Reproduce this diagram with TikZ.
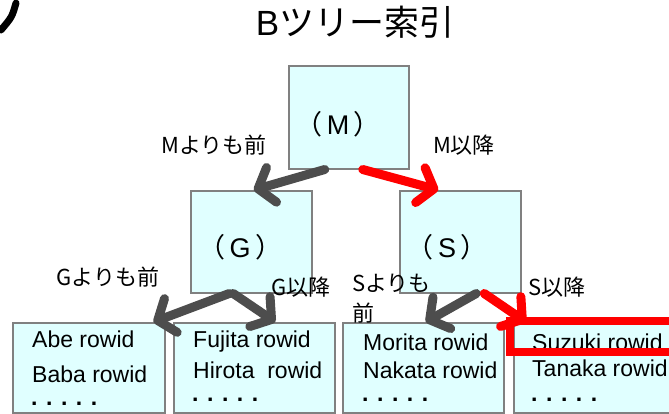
\documentclass[tikz,border=0pt]{standalone}
\usepackage{fontspec}
\setmainfont{Liberation Sans}
\newfontfamily\jp{Noto Sans CJK JP}
\usetikzlibrary{arrows.meta,calc}
\definecolor{boxfill}{RGB}{224,255,255}
\definecolor{boxline}{RGB}{128,128,128}
\definecolor{arrgrey}{RGB}{77,77,77}
\begin{document}
\begin{tikzpicture}[x=1pt,y=-1pt,
  box/.style={draw=boxline,line width=1.5pt,fill=boxfill,inner sep=0,anchor=north west},
  arr/.style={line width=9pt,line cap=round,-{Straight Barb[length=14pt,width=36pt,line cap=round,line join=round]}},
  greyarr/.style={arr,draw=arrgrey},
  redarr/.style={arr,draw=red},
  lbl/.style={font=\jp\fontsize{22}{26}\selectfont,inner sep=0},
  big/.style={font=\fontsize{27}{31}\selectfont,inner sep=0},
  rowtxt/.style={font=\fontsize{23}{27}\selectfont,inner sep=0,anchor=west},
  dots/.style={font=\bfseries\fontsize{23}{27}\selectfont,inner sep=0,anchor=west}]
\useasboundingbox (0,0) rectangle (669,413);
\clip (0,0) rectangle (669,413);
% partial glyph top-left
\draw[line width=7pt,line cap=round] (16,3) .. controls (12,17) .. (1,30);
% title
\node[font=\fontsize{35}{40}\selectfont,inner sep=0] (title) at (355,22) {B{\jp ツリー索引}};
% boxes
\node[box,minimum width=120pt,minimum height=103pt] (M) at (288,65) {};
\node[box,minimum width=121pt,minimum height=102pt] (G) at (190,190) {};
\node[box,minimum width=121pt,minimum height=102pt] (S) at (399,190) {};
\node[big] (Mt) at (338,124) {{\jp （}\,M\,{\jp ）}};
\node[big] (Gt) at (240,247) {{\jp （}\,G\,{\jp ）}};
\node[big] (St) at (447,247) {{\jp （}\,S\,{\jp ）}};
% leaves
\node[box,minimum width=152pt,minimum height=90pt] (L1) at (12,322) {};
\node[box,minimum width=161pt,minimum height=90pt] (L2) at (173,322) {};
\node[box,minimum width=161pt,minimum height=90pt] (L3) at (342,322) {};
\node[box,minimum width=170pt,minimum height=90pt] (L4) at (513,322) {};
\node[rowtxt] (a1) at (32,339) {Abe rowid};
\node[rowtxt] (a2) at (32,374) {Baba rowid};
\node[dots] (a3) at (31,404) {. . . . .};
\node[rowtxt] (b1) at (193,342) {Fujita rowid};
\node[rowtxt] (b2) at (193,370) {Hirota\ \ rowid};
\node[dots] (b3) at (192,400) {. . . . .};
\node[rowtxt] (c1) at (363,342) {Morita rowid};
\node[rowtxt] (c2) at (363,370) {Nakata rowid};
\node[dots] (c3) at (362,400) {. . . . .};
\node[rowtxt] (d1) at (532,342) {Suzuki rowid};
\node[rowtxt] (d2) at (532,368) {Tanaka rowid};
\node[dots] (d3) at (531,400) {. . . . .};
% arrows
\draw[greyarr] ([xshift=-24pt]M.south) -- ([xshift=2.5pt]G.north);
\draw[redarr] ([xshift=14pt]M.south) -- ([xshift=-22pt]S.north);
\draw[greyarr] ([xshift=-22pt]G.south) -- ([xshift=-12pt]L1.north east);
\draw[greyarr] ([xshift=-18pt]G.south) -- ([xshift=21pt]L2.north);
\draw[greyarr] ([xshift=16pt]S.south) -- ([xshift=2.5pt]L3.north);
\draw[redarr] ([xshift=24pt]S.south) -- ([xshift=13pt]L4.north west);
% labels
\node[lbl] (lm1) at (214,145) {Mよりも前};
\node[lbl] (lm2) at (464,145) {M以降};
\node[lbl] (lg1) at (108,277) {Gよりも前};
\node[lbl] (lg2) at (301,287) {G以降};
\node[lbl,anchor=north west,align=left,font=\jp\fontsize{22}{30}\selectfont] (ls1) at (352,274) {Sよりも\\前};
\node[lbl] (ls2) at (557,287) {S以降};
% highlight
\draw[red,line width=8pt] (510,321) rectangle (690,352);
\end{tikzpicture}
\end{document}
